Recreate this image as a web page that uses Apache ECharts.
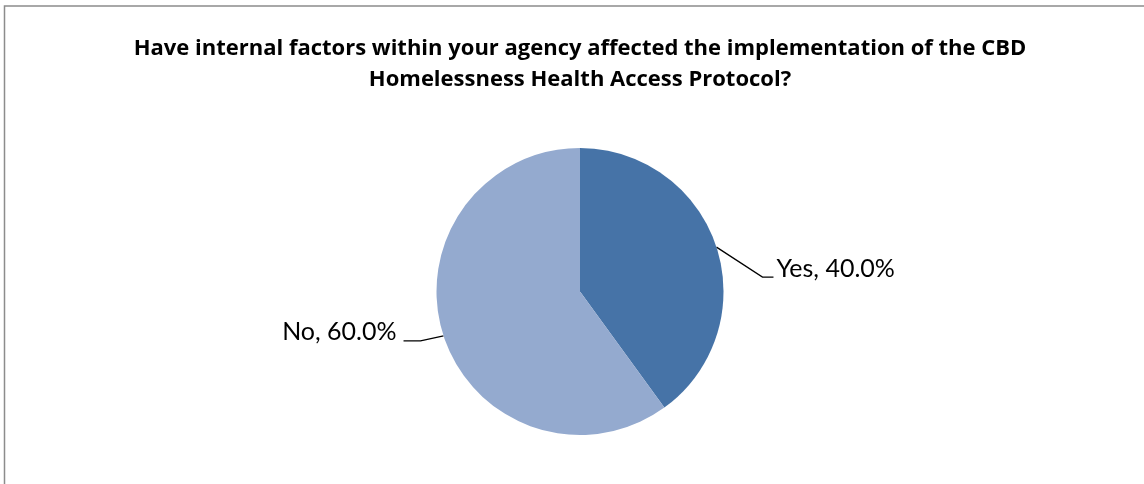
<!DOCTYPE html>
<html>
<head>
<meta charset="utf-8">
<script src="https://cdn.jsdelivr.net/npm/echarts@6/dist/echarts.min.js"></script>
<style>
  html, body { margin: 0; padding: 0; background: #ffffff; }
  #chart { width: 1144px; height: 484px; }
</style>
</head>
<body>
<div id="chart"></div>
<script>
// Survey answers and their shares (percent)
const categories = ['Yes', 'No'];
const shares = [40.0, 60.0];
const sliceColors = ['#4673A7', '#94AACF'];
const titleLines = [
  'Have internal factors within your agency affected the implementation of the CBD',
  'Homelessness Health Access Protocol?'
];

const chart = echarts.init(document.getElementById('chart'), null, { renderer: 'canvas' });

const pieData = categories.map((name, i) => ({
  name: name,
  value: shares[i],
  itemStyle: { color: sliceColors[i] }
}));

chart.setOption({
  animation: false,
  backgroundColor: '#ffffff',
  title: {
    text: titleLines.join('\n'),
    // title centred over the pie centre
    left: 575,
    textAlign: 'center',
    top: 28,
    textStyle: {
      fontFamily: 'Open Sans',
      fontWeight: 'bold',
      fontSize: 22,
      lineHeight: 31,
      color: '#000000'
    }
  },
  graphic: [{
    type: 'rect',
    shape: { x: 4.5, y: 6, width: 1160, height: 500 },
    style: { fill: 'none', stroke: '#8c8c8c', lineWidth: 1.5 },
    silent: true
  }],
  series: [{
    type: 'pie',
    center: [580, 291.5],
    radius: [0, 143.5],
    startAngle: 90,
    clockwise: true,
    data: pieData,
    label: {
      show: true,
      formatter: (p) => p.name + ', ' + p.value.toFixed(1) + '%',
      fontFamily: 'Lato',
      fontSize: 25,
      color: '#000000'
    },
    labelLine: {
      show: true,
      length: 20,
      length2: 10,
      lineStyle: { color: '#000000', width: 1.3 }
    },
    labelLayout: function (params) {
      const pts = params.labelLinePoints;
      if (!pts) return {};
      const a = pts[0];
      if (params.dataIndex === 0) {
        return {
          x: a[0] + 60, y: a[1] + 22,
          align: 'left', verticalAlign: 'middle',
          labelLinePoints: [a, [a[0] + 46, a[1] + 30], [a[0] + 57, a[1] + 30]]
        };
      }
      return {
        x: a[0] - 47, y: a[1] - 4,
        align: 'right', verticalAlign: 'middle',
        labelLinePoints: [a, [a[0] - 23, a[1] + 5], [a[0] - 40, a[1] + 5]]
      };
    }
  }]
});
</script>
</body>
</html>
